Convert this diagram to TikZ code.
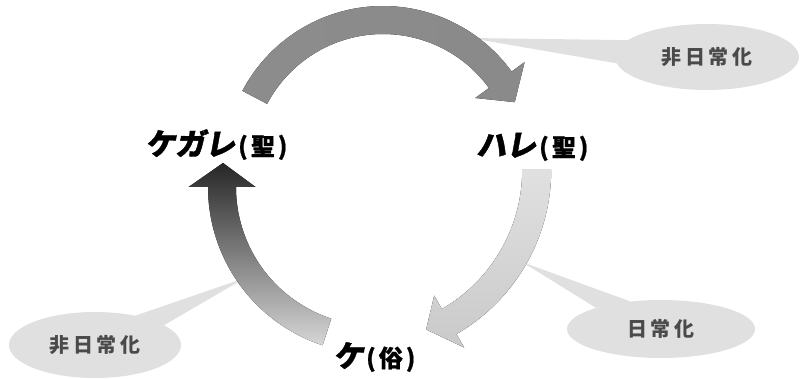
\documentclass[tikz,border=0pt]{standalone}
\usepackage{fontspec}
\usetikzlibrary{shapes.geometric}
\newfontfamily\kanafont[FakeSlant=0.18,FakeBold=1.4]{Noto Sans CJK JP}
\newfontfamily\parenfont[FakeBold=0.8]{Noto Sans CJK JP}
\newfontfamily\callfont[LetterSpace=18]{Noto Sans CJK JP}
\definecolor{callfill}{HTML}{E0E0E0}
\definecolor{calltext}{HTML}{4A4A4A}
\newcommand{\kanaL}[1]{{\kanafont\bfseries\fontsize{30}{30}\selectfont #1}}
\newcommand{\parenL}[1]{{\parenfont\bfseries\fontsize{24}{24}\selectfont\kern3pt(\kern3pt#1\kern3pt)}}
\begin{document}
\begin{tikzpicture}[x=1pt,y=-1pt,
  callout/.style={ellipse, fill=callfill, inner sep=0pt, text=calltext,
    font=\callfont\bfseries\fontsize{20}{20}\selectfont},
  wedge/.style={fill=callfill},
  label/.style={anchor=base west, inner sep=0pt, text=black}]
\useasboundingbox (0,0) rectangle (801,379);
% callouts (drawn beneath the arrows)
\node[callout, minimum width=184pt, minimum height=66pt] (c1) at (707,57) {非日常化};
\coordinate (t1) at (470,38);
\fill[wedge] (t1) -- (c1.168) -- (c1.184) -- cycle;
\node[callout, minimum width=188pt, minimum height=58pt] (c2) at (661,329) {日常化};
\coordinate (t2) at (522,262);
\fill[wedge] (t2) -- (c2.138) -- (c2.162) -- cycle;
\node[callout, minimum width=172pt, minimum height=66pt] (c3) at (95,345) {非日常化};
\coordinate (t3) at (245,278);
\fill[wedge] (t3) -- (c3.36) -- (c3.16) -- cycle;
% top arrow
\fill[left color=black!45, middle color=black!33, right color=black!46]
  plot[domain=207.8:324, samples=50, variable=\t] ({383+159*cos(\t)},{165+159*sin(\t)})
  -- ({383+175*cos(324)},{165+175*sin(324)})
  -- ({383+146*cos(334.5)},{165+146*sin(334.5)})
  -- ({383+114*cos(324)},{165+114*sin(324)})
  -- plot[domain=324:207.8, samples=50, variable=\t] ({383+131*cos(\t)},{165+131*sin(\t)})
  -- cycle;
% right arrow
\fill[top color=black!12, bottom color=black!21]
  plot[domain=0:60, samples=50, variable=\t] ({361.7+189.5*cos(\t)},{170+189.5*sin(\t)})
  -- ({361.7+205*cos(60)},{170+205*sin(60)})
  -- ({361.7+172*cos(68)},{170+172*sin(68)})
  -- ({361.7+145*cos(60)},{170+145*sin(60)})
  -- plot[domain=60:0, samples=50, variable=\t] ({361.7+160.5*cos(\t)},{170+160.5*sin(\t)})
  -- cycle;
% left arrow
\fill[top color=black!85, middle color=black!38, bottom color=black!16]
  plot[domain=108.2:180, samples=50, variable=\t] ({374.6+166.6*cos(\t)},{187+166.6*sin(\t)})
  -- ({374.6+186*cos(180)},{187+186*sin(180)})
  -- ({374.6+153.5*cos(189)},{187+153.5*sin(189)})
  -- ({374.6+119*cos(180)},{187+119*sin(180)})
  -- plot[domain=180:108.2, samples=50, variable=\t] ({374.6+138.6*cos(\t)},{187+138.6*sin(\t)})
  -- cycle;
% main labels
\node[label] (kegare) at (145,155) {\kanaL{ケガレ}\parenL{聖}};
\node[label] (hare) at (476,156) {\kanaL{ハレ}\parenL{聖}};
\node[label] (ke) at (333,367) {\kanaL{ケ}\parenL{俗}};
\end{tikzpicture}
\end{document}
